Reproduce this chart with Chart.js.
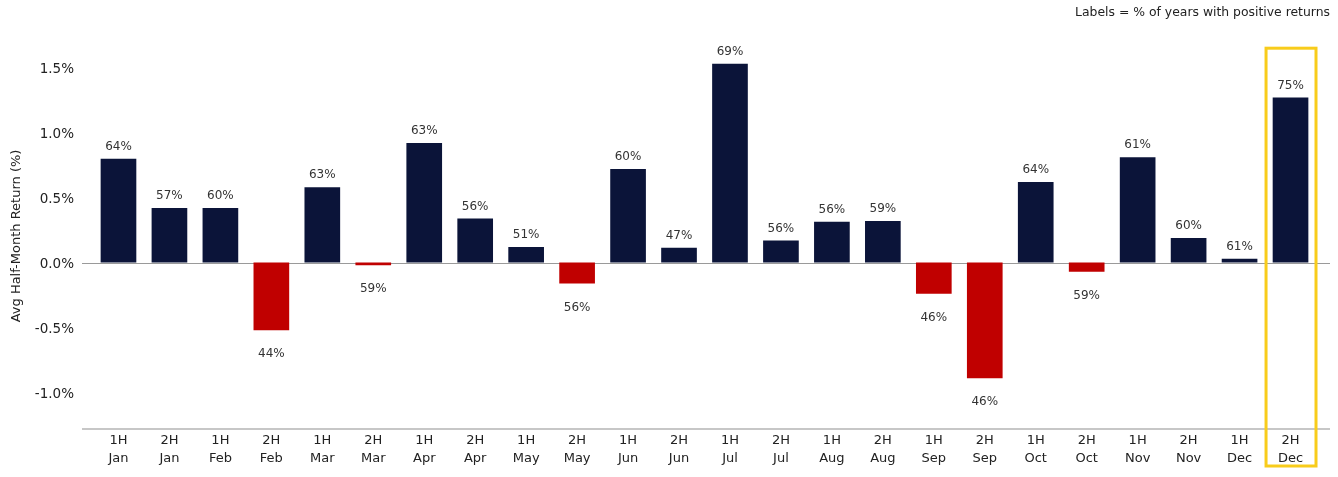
<!DOCTYPE html>
<html>
<head>
<meta charset="utf-8">
<script src="https://cdn.jsdelivr.net/npm/chart.js@4"></script>
<style>
  html, body { margin: 0; padding: 0; background: #fff; }
  #wrap { width: 1338px; height: 477px; }
</style>
</head>
<body>
<div id="wrap"><canvas id="chart"></canvas></div>
<script>
Chart.defaults.font.family = "'DejaVu Sans', sans-serif";
Chart.defaults.color = '#222';

const halves = ['1H', '2H', '1H', '2H', '1H', '2H', '1H', '2H', '1H', '2H', '1H', '2H',
                '1H', '2H', '1H', '2H', '1H', '2H', '1H', '2H', '1H', '2H', '1H', '2H'];
const months = ['Jan', 'Jan', 'Feb', 'Feb', 'Mar', 'Mar', 'Apr', 'Apr', 'May', 'May', 'Jun', 'Jun',
                'Jul', 'Jul', 'Aug', 'Aug', 'Sep', 'Sep', 'Oct', 'Oct', 'Nov', 'Nov', 'Dec', 'Dec'];
const avgReturn = [0.80, 0.42, 0.42, -0.52, 0.58, -0.02, 0.92, 0.34, 0.12, -0.16, 0.72, 0.115,
                   1.53, 0.17, 0.315, 0.32, -0.24, -0.89, 0.62, -0.07, 0.81, 0.19, 0.03, 1.27];
const pctPositive = [64, 57, 60, 44, 63, 59, 63, 56, 51, 56, 60, 47,
                     69, 56, 56, 59, 46, 46, 64, 59, 61, 60, 61, 75];
const yTicks = [-1.0, -0.5, 0.0, 0.5, 1.0, 1.5];
const highlightIndex = 23;

const NAVY = '#0b1439';
const RED = '#c00000';

const labels = halves.map((h, i) => [h, months[i]]);

const extrasPlugin = {
    id: 'extras',
    beforeDatasetsDraw: (chart) => {
        const ctx = chart.ctx;
        const y = chart.scales.y;
        const area = chart.chartArea;
        ctx.save();
        // zero line
        ctx.strokeStyle = '#9a9a9a';
        ctx.lineWidth = 1;
        ctx.beginPath();
        ctx.moveTo(area.left - 11, Math.round(y.getPixelForValue(0)) + 0.5);
        ctx.lineTo(area.right + 14, Math.round(y.getPixelForValue(0)) + 0.5);
        ctx.stroke();
        // bottom axis line
        ctx.strokeStyle = '#b5b5b5';
        ctx.lineWidth = 1.5;
        ctx.beginPath();
        ctx.moveTo(area.left - 11, area.bottom);
        ctx.lineTo(area.right + 14, area.bottom);
        ctx.stroke();
        ctx.restore();
    },
    afterDatasetsDraw: (chart) => {
        const ctx = chart.ctx;
        const meta = chart.getDatasetMeta(0);
        const x = chart.scales.x;
        const y = chart.scales.y;
        ctx.save();
        ctx.font = "12px 'DejaVu Sans', sans-serif";
        ctx.fillStyle = '#333';
        ctx.textAlign = 'center';
        ctx.textBaseline = 'middle';
        meta.data.forEach((bar, i) => {
            const v = avgReturn[i];
            const ty = v >= 0 ? bar.y - 12 : bar.y + 24;
            ctx.fillText(pctPositive[i] + '%', bar.x, ty);
        });
        // highlight box
        const cx = x.getPixelForValue(highlightIndex);
        const w = x.width / labels.length;
        ctx.strokeStyle = '#f8cc1b';
        ctx.lineWidth = 3;
        ctx.strokeRect(cx - w / 2 + 1, y.getPixelForValue(1.65), w - 1, chart.height - 11 - y.getPixelForValue(1.65));
        // note
        ctx.font = "12.4px 'DejaVu Sans', sans-serif";
        ctx.fillStyle = '#222';
        ctx.textAlign = 'right';
        ctx.fillText('Labels = % of years with positive returns', 1330, 13);
        ctx.restore();
    }
};

new Chart(document.getElementById('chart').getContext('2d'), {
    type: 'bar',
    data: {
        labels: labels,
        datasets: [{
            data: avgReturn,
            backgroundColor: avgReturn.map(v => v >= 0 ? NAVY : RED),
            barPercentage: 0.7,
            categoryPercentage: 1.0
        }]
    },
    options: {
        responsive: true,
        maintainAspectRatio: false,
        animation: false,
        devicePixelRatio: 1,
        layout: {
            padding: { top: 43, right: 22, bottom: 7, left: 9 }
        },
        plugins: {
            legend: { display: false },
            tooltip: { enabled: false }
        },
        scales: {
            x: {
                grid: { display: false, drawTicks: false },
                border: { display: false },
                ticks: {
                    padding: 3,
                    maxRotation: 0,
                    autoSkip: false,
                    color: '#222',
                    font: { size: 13, lineHeight: 1.35 }
                }
            },
            y: {
                min: -1.28,
                max: 1.69,
                grid: { display: false, drawTicks: false },
                border: { display: false },
                afterBuildTicks: (axis) => {
                    axis.ticks = yTicks.map(v => ({ value: v }));
                },
                afterFit: (axis) => {
                    axis.width = 84;
                },
                ticks: {
                    padding: 19,
                    labelOffset: 2,
                    color: '#222',
                    font: { size: 13.5 },
                    callback: (v) => v.toFixed(1) + '%'
                },
                title: {
                    display: true,
                    text: 'Avg Half-Month Return (%)',
                    color: '#222',
                    font: { size: 13 },
                    padding: { top: 0, bottom: 0 }
                }
            }
        }
    },
    plugins: [extrasPlugin]
});
</script>
</body>
</html>
